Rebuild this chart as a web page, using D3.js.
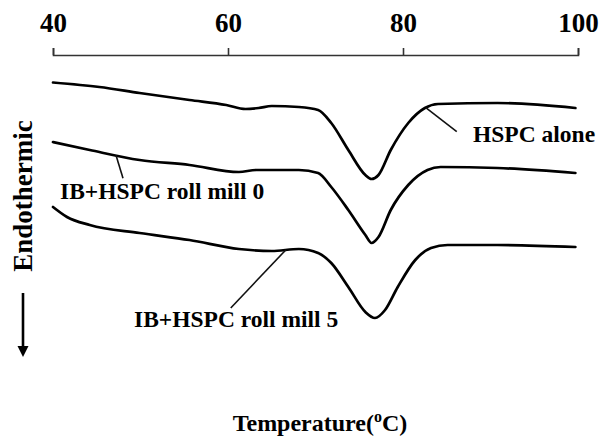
<!DOCTYPE html>
<html>
<head>
<meta charset="utf-8">
<script src="https://cdn.jsdelivr.net/npm/d3@7"></script>
<style>
  html, body { margin: 0; padding: 0; background: #fff; }
  svg { display: block; font-family: "Liberation Serif", "Times New Roman", serif; font-weight: bold; }
</style>
</head>
<body>
<svg id="chart" width="600" height="438"></svg>
<script>
// Temperature (°C)
const tickValues = [40, 60, 80, 100];

// DSC thermograms (heat flow, arbitrary units; offset per sample)
const hspcAloneT = [40.0, 45.3, 49.9, 55.6, 59.8, 62.0, 63.5, 65.0, 68.1, 70.3, 71.8, 73.75, 75.7, 76.4, 77.2, 78.6, 80.6, 82.5, 84.0, 90.8, 99.7];
const hspcAloneV = [32.75, 32.3, 31.7, 31.0, 30.5, 30.1, 30.2, 30.4, 30.3, 30.0, 28.7, 26.0, 23.5, 23.1, 23.5, 26.0, 28.7, 30.2, 30.6, 30.7, 30.2];

const mill0T = [40.0, 44.2, 49.9, 55.6, 61.25, 63.2, 68.1, 70.3, 71.8, 73.75, 75.7, 76.4, 77.2, 78.6, 80.6, 82.8, 84.3, 90.8, 99.7];
const mill0V = [26.8, 26.0, 25.0, 24.5, 23.8, 24.0, 24.0, 23.7, 22.3, 20.0, 17.5, 16.7, 17.3, 20.0, 22.5, 24.0, 24.3, 24.2, 23.7];

const mill5T = [40.0, 41.6, 44.2, 49.9, 55.6, 61.25, 65.0, 68.1, 70.3, 71.8, 73.75, 75.7, 76.8, 77.95, 79.4, 81.4, 83.2, 85.1, 90.8, 99.7];
const mill5V = [20.3, 19.3, 18.5, 17.7, 17.0, 16.1, 15.9, 16.1, 15.7, 14.7, 12.3, 9.8, 9.2, 10.0, 12.3, 15.0, 16.2, 16.5, 16.5, 16.3];

const seriesNames = ["HSPC alone", "IB+HSPC roll mill 0", "IB+HSPC roll mill 5"];
const annotationT = [82.6, 47.2, 66.6];

const series = [
  { name: seriesNames[0], T: hspcAloneT, V: hspcAloneV },
  { name: seriesNames[1], T: mill0T, V: mill0V },
  { name: seriesNames[2], T: mill5T, V: mill5V }
];

const svg = d3.select("#chart");
const x = d3.scaleLinear().domain([40, 100]).range([53, 578]);
const y = d3.scaleLinear().domain([0, 35]).range([410, 60]);

// top axis
const axis = d3.axisTop(x).tickValues(tickValues).tickSize(7).tickSizeOuter(7).tickPadding(16).tickFormat(d3.format("d"));
const gAxis = svg.append("g").attr("transform", "translate(0,55)").call(axis);
gAxis.select(".domain").attr("stroke", "#333").attr("stroke-width", 1.6);
gAxis.selectAll(".tick line").attr("stroke", "#333").attr("stroke-width", 1.6);
gAxis.selectAll(".tick text").attr("fill", "#000").style("font-size", "27px")
  .style("font-family", '"Liberation Serif", serif').style("font-weight", "bold");

// curves
const line = d3.line().x(d => x(d[0])).y(d => y(d[1])).curve(d3.curveMonotoneX);
series.forEach(s => {
  const pts = s.T.map((t, i) => [t, s.V[i]]);
  svg.append("path").datum(pts).attr("d", line)
    .attr("fill", "none").attr("stroke", "#000").attr("stroke-width", 2.7)
    .attr("stroke-linejoin", "round").attr("stroke-linecap", "round");
});

// value on a curve at temperature t
function valueAt(s, t) {
  const i = d3.bisectLeft(s.T, t);
  if (i <= 0) return s.V[0];
  const t0 = s.T[i - 1], t1 = s.T[i];
  return s.V[i - 1] + (s.V[i] - s.V[i - 1]) * (t - t0) / (t1 - t0);
}

// annotations: leader end offsets and label positions (style)
const leaderEnd = [[31, 24], [7, 23], [-55, 58]];
const labelPos = [[473, 142], [60, 199], [134, 327]];
series.forEach((s, k) => {
  const px = x(annotationT[k]), py = y(valueAt(s, annotationT[k]));
  svg.append("line").attr("x1", px).attr("y1", py)
    .attr("x2", px + leaderEnd[k][0]).attr("y2", py + leaderEnd[k][1])
    .attr("stroke", "#111").attr("stroke-width", 1.6);
  svg.append("text").attr("x", labelPos[k][0]).attr("y", labelPos[k][1])
    .style("font-size", "23.5px").attr("fill", "#000").text(s.name);
});

// y label
svg.append("text").attr("transform", "translate(32,196) rotate(-90)")
  .attr("text-anchor", "middle").style("font-size", "27px").attr("fill", "#000").text("Endothermic");

// arrow
svg.append("line").attr("x1", 23).attr("y1", 293).attr("x2", 23).attr("y2", 348)
  .attr("stroke", "#000").attr("stroke-width", 2.6);
svg.append("path").attr("d", d3.line()([[17.5, 346], [28.5, 346], [23, 357]])).attr("fill", "#000");

// x title
const xt = svg.append("text").attr("x", 320).attr("y", 431).attr("text-anchor", "middle")
  .style("font-size", "24px").attr("fill", "#000");
xt.append("tspan").text("Temperature(");
xt.append("tspan").attr("dy", -9).style("font-size", "16px").text("o");
xt.append("tspan").attr("dy", 9).text("C)");
</script>
</body>
</html>
